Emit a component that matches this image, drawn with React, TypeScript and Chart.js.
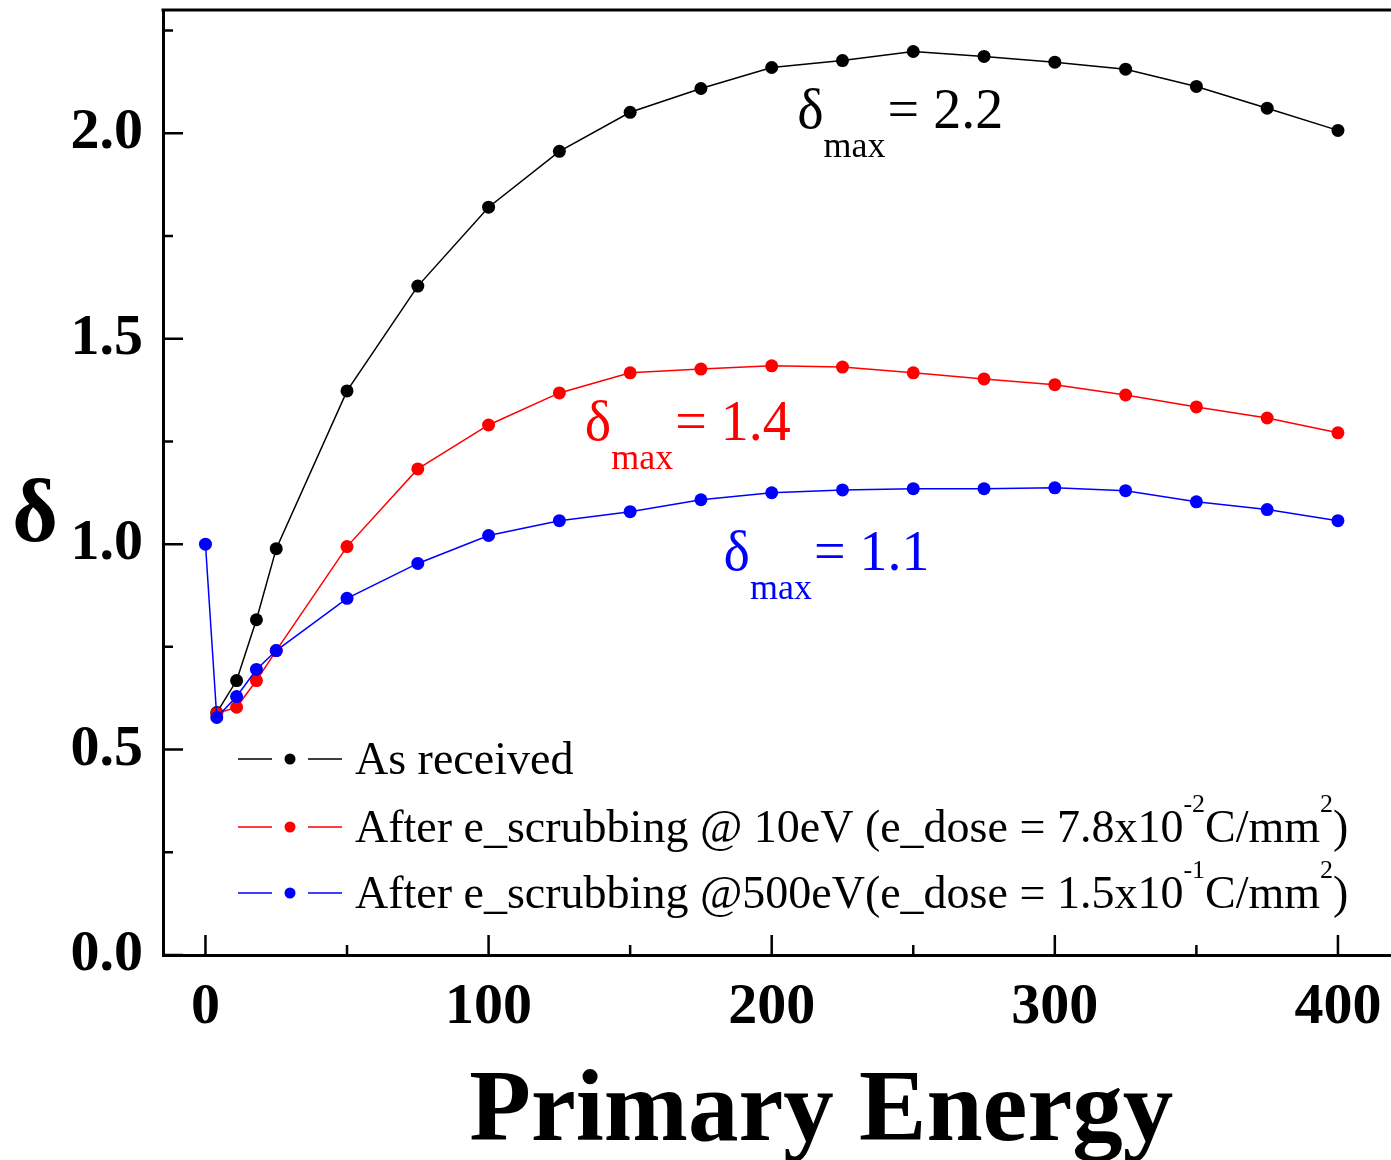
import { useEffect, useRef } from "react";
import { Chart, registerables } from "chart.js";

Chart.register(...registerables);

// ---------- data ----------
const energyAsReceived = [4, 11, 18, 25, 50, 75, 100, 125, 150, 175, 200, 225, 250, 275, 300, 325, 350, 375, 400];
const deltaAsReceived = [0.59, 0.668, 0.816, 0.989, 1.373, 1.628, 1.82, 1.956, 2.051, 2.109, 2.16, 2.177, 2.199, 2.187, 2.173, 2.156, 2.114, 2.061, 2.007];

const energyScrub10 = [4, 11, 18, 25, 50, 75, 100, 125, 150, 175, 200, 225, 250, 275, 300, 325, 350, 375, 400];
const deltaScrub10 = [0.588, 0.603, 0.668, 0.741, 0.994, 1.183, 1.29, 1.368, 1.417, 1.426, 1.434, 1.431, 1.417, 1.402, 1.388, 1.363, 1.334, 1.307, 1.271];

const energyScrub500 = [0, 4, 11, 18, 25, 50, 75, 100, 125, 150, 175, 200, 225, 250, 275, 300, 325, 350, 375, 400];
const deltaScrub500 = [1.0, 0.578, 0.629, 0.695, 0.741, 0.868, 0.953, 1.021, 1.057, 1.079, 1.108, 1.125, 1.132, 1.135, 1.135, 1.137, 1.13, 1.103, 1.084, 1.057];

const xMajorTicks = [0, 100, 200, 300, 400];
const xMinorTicks = [50, 150, 250, 350, 450];
const yMajorTicks = [0, 0.5, 1.0, 1.5, 2.0];
const yMinorTicks = [0.25, 0.75, 1.25, 1.75, 2.25];

const seriesNames = ["As received", "After e_scrubbing @ 10eV", "After e_scrubbing @500eV"];
const seriesColors = ["#000000", "#ff0000", "#0000ff"];

// legend text runs: [text, superscript?]
const legendRuns: [string, boolean][][] = [
  [["As received", false]],
  [["After e_scrubbing @ 10eV (e_dose = 7.8x10", false], ["-2", true], ["C/mm", false], ["2", true], [")", false]],
  [["After e_scrubbing @500eV(e_dose = 1.5x10", false], ["-1", true], ["C/mm", false], ["2", true], [")", false]],
];

// delta_max annotations: value text, anchor in data units (x, y of baseline)
const annotValues = ["2.2", "1.4", "1.1"];
const annotAnchorX = [209, 134, 183];
const annotAnchorY = [2.013, 1.253, 0.937];

const SERIF = "'Liberation Serif', 'Times New Roman', 'DejaVu Serif', serif";

const decorPlugin = {
  id: "decor",
  afterDraw(chart: any) {
    const ctx: CanvasRenderingContext2D = chart.ctx;
    const area = chart.chartArea;
    const xs = chart.scales.x;
    const ys = chart.scales.y;
    ctx.save();

    // frame top / right
    ctx.strokeStyle = "#000";
    ctx.lineWidth = 3;
    ctx.beginPath();
    ctx.moveTo(area.left - 1.5, area.top);
    ctx.lineTo(area.right, area.top);
    ctx.lineTo(area.right, area.bottom);
    ctx.stroke();

    // inward ticks
    ctx.lineWidth = 2.5;
    ctx.beginPath();
    const tickX = (v: number, len: number) => {
      const p = xs.getPixelForValue(v);
      if (p < area.left || p > area.right) return;
      ctx.moveTo(p, area.bottom);
      ctx.lineTo(p, area.bottom - len);
    };
    const tickY = (v: number, len: number) => {
      const p = ys.getPixelForValue(v);
      if (p < area.top || p > area.bottom) return;
      ctx.moveTo(area.left, p);
      ctx.lineTo(area.left + len, p);
    };
    xMajorTicks.forEach((v) => tickX(v, 20));
    xMinorTicks.forEach((v) => tickX(v, 10));
    yMajorTicks.forEach((v) => tickY(v, 20));
    yMinorTicks.forEach((v) => tickY(v, 10));
    ctx.stroke();

    // axis titles
    ctx.fillStyle = "#000";
    ctx.textAlign = "center";
    ctx.textBaseline = "alphabetic";
    ctx.font = `bold 101px ${SERIF}`;
    ctx.fillText("Primary Energy", (area.left + area.right) / 2, area.bottom + 185);
    ctx.font = `bold 88px ${SERIF}`;
    ctx.fillText("δ", 35, ys.getPixelForValue(1.0) - 3);

    // delta_max annotations
    ctx.textAlign = "left";
    annotValues.forEach((val, i) => {
      const x = xs.getPixelForValue(annotAnchorX[i]);
      const y = ys.getPixelForValue(annotAnchorY[i]);
      ctx.fillStyle = seriesColors[i];
      ctx.font = `56px ${SERIF}`;
      ctx.fillText("δ", x, y);
      const wd = ctx.measureText("δ").width;
      ctx.font = `36px ${SERIF}`;
      ctx.fillText("max", x + wd, y + 29);
      const wm = ctx.measureText("max").width;
      ctx.font = `56px ${SERIF}`;
      ctx.fillText("= " + val, x + wd + wm + 2, y);
    });

    // legend
    const rowY = [area.bottom - 196, area.bottom - 128, area.bottom - 62];
    const lx = area.left;
    seriesColors.forEach((c, i) => {
      const y = rowY[i];
      ctx.strokeStyle = c;
      ctx.lineWidth = 1.5;
      ctx.beginPath();
      ctx.moveTo(lx + 75, y);
      ctx.lineTo(lx + 109, y);
      ctx.moveTo(lx + 145, y);
      ctx.lineTo(lx + 179, y);
      ctx.stroke();
      ctx.fillStyle = c;
      ctx.beginPath();
      ctx.arc(lx + 127, y, 5.5, 0, Math.PI * 2);
      ctx.fill();
      ctx.fillStyle = "#000";
      let tx = lx + 192;
      const base = y + 15;
      legendRuns[i].forEach(([t, sup]) => {
        if (sup) {
          ctx.font = `26px ${SERIF}`;
          ctx.fillText(t, tx, base - 30);
        } else {
          ctx.font = `46px ${SERIF}`;
          ctx.fillText(t, tx, base);
        }
        tx += ctx.measureText(t).width;
      });
    });

    ctx.restore();
  },
};

export default function App() {
  const canvasRef = useRef<HTMLCanvasElement | null>(null);

  useEffect(() => {
    const canvas = canvasRef.current;
    if (!canvas) return;
    const mk = (xs: number[], ys: number[]) => xs.map((x, i) => ({ x, y: ys[i] }));
    const ds = (i: number, xs: number[], ys: number[], order: number) => ({
      label: seriesNames[i],
      data: mk(xs, ys),
      borderColor: seriesColors[i],
      backgroundColor: seriesColors[i],
      pointBackgroundColor: seriesColors[i],
      borderWidth: 1.5,
      pointRadius: 6.5,
      pointBorderWidth: 0,
      tension: 0,
      order,
    });
    const chart = new Chart(canvas, {
      type: "line",
      data: {
        datasets: [
          ds(0, energyAsReceived, deltaAsReceived, 3),
          ds(1, energyScrub10, deltaScrub10, 2),
          ds(2, energyScrub500, deltaScrub500, 1),
        ],
      },
      options: {
        responsive: false,
        animation: false,
        devicePixelRatio: 1,
        layout: { padding: { top: 10, left: 0, right: 1, bottom: 0 } },
        plugins: {
          legend: { display: false },
          tooltip: { enabled: false },
          title: { display: false },
        },
        scales: {
          x: {
            type: "linear",
            min: -15,
            max: 450,
            grid: { display: false, drawTicks: false },
            border: { display: true, color: "#000", width: 3 },
            ticks: {
              stepSize: 100,
              includeBounds: false,
              autoSkip: false,
              maxRotation: 0,
              padding: 18,
              color: "#000",
              font: { family: SERIF, size: 58, weight: "bold" },
              callback: (v: any) => String(v),
            },
            afterFit: (s: any) => {
              s.height = 205;
              s.paddingLeft = 0;
              s.paddingRight = 0;
            },
          },
          y: {
            type: "linear",
            min: 0,
            max: 2.3,
            grid: { display: false, drawTicks: false },
            border: { display: true, color: "#000", width: 3 },
            ticks: {
              stepSize: 0.5,
              includeBounds: false,
              padding: 20,
              color: "#000",
              font: { family: SERIF, size: 58, weight: "bold" },
              callback: (v: any) => Number(v).toFixed(1),
            },
            afterFit: (s: any) => {
              s.width = 163;
              s.paddingTop = 0;
              s.paddingBottom = 0;
            },
          },
        },
      } as any,
      plugins: [decorPlugin],
    });
    return () => chart.destroy();
  }, []);

  return (
    <div
      style={{
        position: "absolute",
        left: 0,
        top: 0,
        width: 1391,
        height: 1160,
        overflow: "hidden",
        background: "#fff",
      }}
    >
      <canvas ref={canvasRef} width={1486} height={1160} style={{ width: 1486, height: 1160, display: "block" }} />
    </div>
  );
}
